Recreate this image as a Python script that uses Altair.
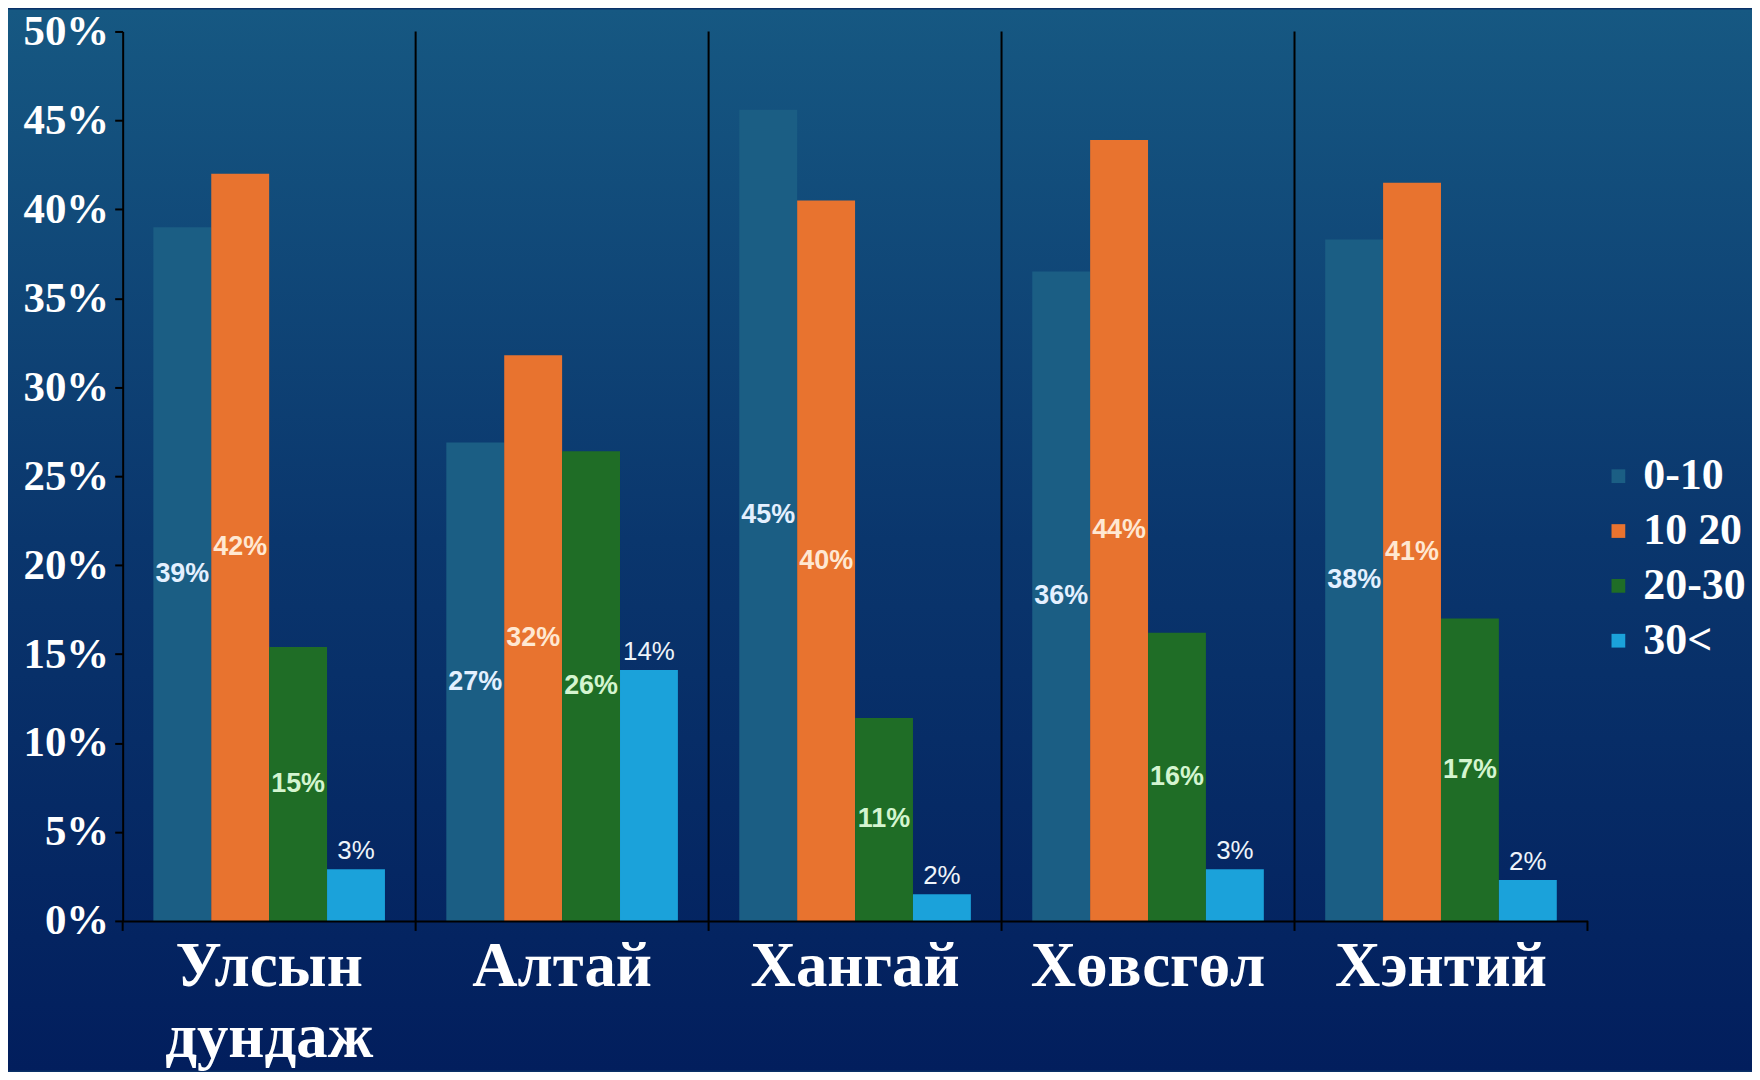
import altair as alt
import pandas as pd

regions = ["Улсын дундаж", "Алтай", "Хангай", "Хөвсгөл", "Хэнтий"]
series = ["0-10", "10 20", "20-30", "30<"]

v_0_10 = [39.0, 26.9, 45.6, 36.5, 38.3]
v_10_20 = [42.0, 31.8, 40.5, 43.9, 41.5]
v_20_30 = [15.4, 26.4, 11.4, 16.2, 17.0]
v_30 = [2.9, 14.1, 1.5, 2.9, 2.3]

lab_0_10 = ["39%", "27%", "45%", "36%", "38%"]
lab_10_20 = ["42%", "32%", "40%", "44%", "41%"]
lab_20_30 = ["15%", "26%", "11%", "16%", "17%"]
lab_30 = ["3%", "14%", "2%", "3%", "2%"]

y_ticks = [0, 5, 10, 15, 20, 25, 30, 35, 40, 45, 50]

bar_colors = ["#1B5E84", "#E8732F", "#1F6D26", "#1BA2DA"]
label_colors = ["#E4F0FF", "#FFE8D2", "#D4F5D0", "#EEF4FA"]

rows = []
for vals, labs, s in [(v_0_10, lab_0_10, series[0]), (v_10_20, lab_10_20, series[1]),
                      (v_20_30, lab_20_30, series[2]), (v_30, lab_30, series[3])]:
    for r, v, l in zip(regions, vals, labs):
        rows.append({"region": r, "series": s, "value": v, "label": l})
df = pd.DataFrame(rows)

W, H = 1469, 892
PL, PT, PR, PB = 115, 22, 165, 150

SERIF = "Liberation Serif"
SANS = "Liberation Sans"

x_enc = alt.X("region:N",
              scale=alt.Scale(domain=regions, paddingInner=0, paddingOuter=0),
              axis=alt.Axis(title=None, labelAngle=0, labelFont=SERIF, labelFontSize=63,
                            labelFontWeight="bold", labelColor="white", labelLimit=0,
                            labelAlign="center",
                            labelExpr="split(datum.label, ' ')", labelLineHeight=71,
                            labelPadding=46, domainColor="black", domainWidth=2,
                            ticks=False, grid=False, zindex=1))
xoff_enc = alt.XOffset("series:N",
                       scale=alt.Scale(domain=series, paddingInner=0, paddingOuter=0.53))
y_enc = alt.Y("value:Q",
              scale=alt.Scale(domain=[0, 50], nice=False),
              axis=alt.Axis(title=None, values=y_ticks, labelExpr="datum.value + '%'",
                            labelFont=SERIF, labelFontSize=43, labelFontWeight="bold",
                            labelColor="white", labelPadding=6, domainColor="black",
                            domainWidth=2, tickColor="black", tickWidth=2, tickSize=8,
                            grid=False, zindex=1))

bg = alt.Chart(pd.DataFrame({"bg": [0]})).mark_rect(
    color=alt.LinearGradient(
        gradient="linear",
        stops=[alt.GradientStop(color="#165882", offset=0),
               alt.GradientStop(color="#0A366D", offset=0.5),
               alt.GradientStop(color="#021E5D", offset=1)],
        x1=0, x2=0, y1=0, y2=1)
).encode(x=alt.value(-PL), x2=alt.value(W + PR), y=alt.value(-PT), y2=alt.value(H + PB))

# group separators (full height) and boundary ticks below the baseline
seps = alt.Chart(pd.DataFrame({"region": regions[1:]})).mark_rule(
    color="black", strokeWidth=2
).encode(x=alt.X("region:N", bandPosition=0), y=alt.datum(50), y2=alt.datum(0))

ticks_start = alt.Chart(pd.DataFrame({"region": regions})).mark_rule(
    color="black", strokeWidth=2
).encode(x=alt.X("region:N", bandPosition=0), y=alt.datum(0), y2=alt.value(H + 10))

ticks_end = alt.Chart(pd.DataFrame({"region": regions[-1:]})).mark_rule(
    color="black", strokeWidth=2
).encode(x=alt.X("region:N", bandPosition=1), y=alt.datum(0), y2=alt.value(H + 10))

bars = alt.Chart(df).mark_bar().encode(
    x=x_enc,
    xOffset=xoff_enc,
    y=y_enc,
    color=alt.Color("series:N",
                    scale=alt.Scale(domain=series, range=bar_colors),
                    legend=alt.Legend(title=None, orient="none", legendX=1478, legendY=424,
                                      padding=0, symbolType="square", symbolSize=190,
                                      symbolStrokeWidth=0, labelFont=SERIF,
                                      labelFontSize=44, labelFontWeight="bold",
                                      labelColor="white", labelOffset=3, labelLimit=0,
                                      rowPadding=11, zindex=1)),
)

inner = alt.Chart(df).transform_filter(
    alt.FieldOneOfPredicate(field="series", oneOf=series[:3])
).transform_calculate(mid="datum.value / 2").mark_text(
    font=SANS, fontSize=27, fontWeight="bold", baseline="middle", align="center"
).encode(
    x=alt.X("region:N"),
    xOffset=alt.XOffset("series:N"),
    y=alt.Y("mid:Q"),
    text="label:N",
    color=alt.Color("series:N", scale=alt.Scale(domain=series, range=label_colors), legend=None),
)

outer = alt.Chart(df).transform_filter(
    alt.FieldEqualPredicate(field="series", equal=series[3])
).mark_text(
    font=SANS, fontSize=26, baseline="bottom", align="center", dy=-5, color="#EEF4FA"
).encode(
    x=alt.X("region:N"),
    xOffset=alt.XOffset("series:N"),
    y=alt.Y("value:Q"),
    text="label:N",
)

chart = alt.layer(bg, seps, ticks_start, ticks_end, bars, inner, outer).resolve_scale(
    color="independent"
).properties(
    width=W, height=H,
    padding={"left": PL, "top": PT, "right": PR, "bottom": PB},
    autosize=alt.AutoSizeParams(type="none"),
    background="#0A3168",
).configure_view(stroke=None)

chart.save("out.html", embed_options={"renderer": "svg", "actions": False})
